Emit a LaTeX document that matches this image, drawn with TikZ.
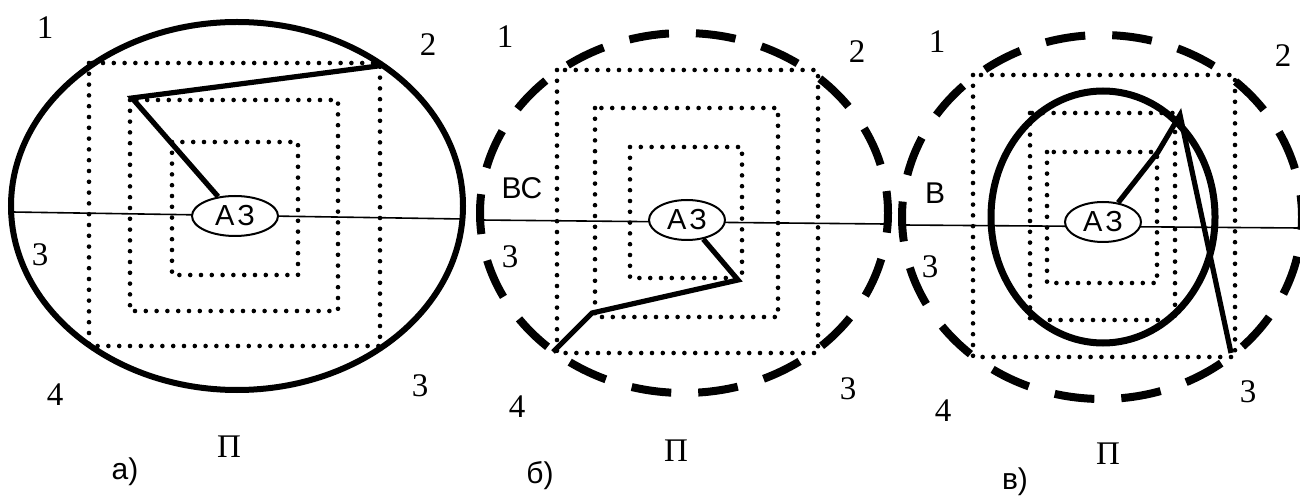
\documentclass[tikz,border=0pt]{standalone}
\usepackage{fontspec}
\setmainfont{Liberation Serif}
\newfontfamily\sansf{Liberation Sans}
\usetikzlibrary{shapes.geometric}
\begin{document}
\begin{tikzpicture}[x=0.5pt,y=-0.5pt,
  dotline/.style={line width=2.3pt, line cap=round, dash pattern=on 0pt off 5.4pt},
  wire/.style={line width=2.6pt, line join=miter},
  axisline/.style={line width=0.8pt},
  shell/.style={line width=3pt},
  dashshell/.style={line width=4pt, dash pattern=on 20pt off 13.5pt, dash phase=9pt},
  az/.style={ellipse, draw, line width=1pt, fill=white, inner sep=0pt,
    minimum width=38pt, minimum height=20pt, font=\sansf\fontsize{14.5}{15}\selectfont},
  lbl/.style={font=\fontsize{16.5}{17}\selectfont, inner sep=0pt},
  slbl/.style={font=\sansf\fontsize{15}{16}\selectfont, inner sep=0pt}]
\useasboundingbox (0,0) rectangle (1300,496);
\fill[white] (0,0) rectangle (1300,496);

% ---------- panel a ----------
\coordinate (aL) at (12,212);
\coordinate (aR) at (463,219);
\draw[dotline] (89,63) rectangle (380,346);
\draw[dotline] (130,100) rectangle (338,311);
\draw[dotline] (172,142) rectangle (298,275);
\draw[shell] (237,206) ellipse [x radius=113pt, y radius=92pt];
\draw[axisline] (aL) -- (aR);
\node[az, minimum width=43pt] (az1) at (235,216) {А\kern1.5ptЗ};
\coordinate (a1) at (132,98);
\coordinate (a2) at (378,66);
\draw[wire] (az1) -- (a1) -- (a2);
\node[lbl] (a-n1) at (45,28) {1};
\node[lbl] (a-n2) at (428,45) {2};
\node[lbl] (a-n3l) at (40,255) {3};
\node[lbl] (a-n4) at (55,395) {4};
\node[lbl] (a-n3r) at (420,386) {3};
\node[lbl] (a-p) at (229,447) {П};
\node[slbl] (a-cap) at (125,472) {а)};

% ---------- panel b ----------
\coordinate (bL) at (480,220);
\coordinate (bR) at (885,224);
\draw[dotline] (557,70) rectangle (818,353);
\draw[dotline] (595,108) rectangle (778,317);
\draw[dotline] (630,147) rectangle (742,278);
\draw[dashshell] (684,213) ellipse [x radius=102pt, y radius=90pt];
\draw[axisline] (bL) -- (bR);
\node[az] (az2) at (687,220) {А\kern1.5ptЗ};
\coordinate (b1) at (738,280);
\coordinate (b2) at (592,313);
\coordinate (b3) at (553,352);
\draw[wire] (az2) -- (b1) -- (b2) -- (b3);
\node[lbl] (b-n1) at (505,37) {1};
\node[lbl] (b-n2) at (857,52) {2};
\node[slbl] (b-vs) at (522,188) {ВС};
\node[lbl] (b-n3l) at (510,257) {3};
\node[lbl] (b-n4) at (517,407) {4};
\node[lbl] (b-n3r) at (848,389) {3};
\node[lbl] (b-p) at (676,451) {П};
\node[slbl] (b-cap) at (540,476) {б)};

% ---------- panel v ----------
\coordinate (cL) at (903,225);
\coordinate (cR) at (1300,228);
\draw[dotline] (973,75) rectangle (1235,357);
\draw[dotline] (1030,113) rectangle (1175,320);
\draw[dotline] (1047,152) rectangle (1157,283);
\draw[dashshell] (1102,217) ellipse [x radius=100pt, y radius=91pt];
\draw[line width=3.5pt] (1103,217) ellipse [x radius=56pt, y radius=63pt];
\draw[axisline] (cL) -- (cR);
\node[az] (az3) at (1103,222) {А\kern1.5ptЗ};
\coordinate (c1) at (1158,152);
\coordinate (c2) at (1180,115);
\coordinate (c3) at (1231,353);
\draw[wire] (az3) -- (c1) -- (c2) -- (c3);
\node[lbl] (c-n1) at (937,42) {1};
\node[lbl] (c-n2) at (1283,56) {2};
\node[slbl] (c-v) at (935,193) {В};
\node[lbl] (c-n3l) at (930,267) {3};
\node[lbl] (c-n4) at (943,411) {4};
\node[lbl] (c-n3r) at (1248,392) {3};
\node[lbl] (c-p) at (1108,454) {П};
\node[slbl] (c-cap) at (1015,482) {в)};
\end{tikzpicture}
\end{document}
